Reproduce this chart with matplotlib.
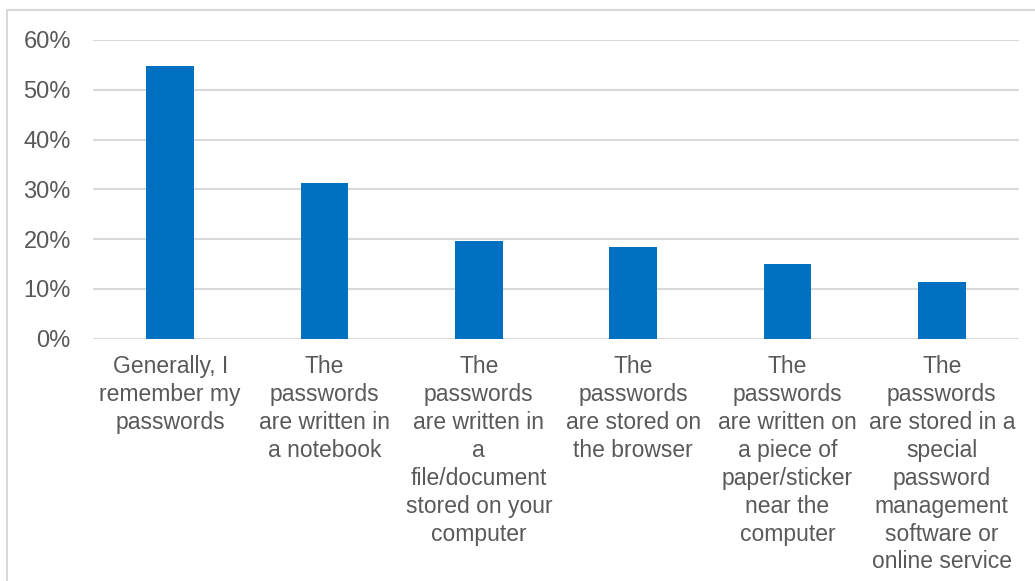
import matplotlib.pyplot as plt
from matplotlib.patches import Rectangle
from matplotlib.ticker import PercentFormatter

# Data
categories = [
    "Generally, I\nremember my\npasswords",
    "The\npasswords\nare written in\na notebook",
    "The\npasswords\nare written in\na\nfile/document\nstored on your\ncomputer",
    "The\npasswords\nare stored on\nthe browser",
    "The\npasswords\nare written on\na piece of\npaper/sticker\nnear the\ncomputer",
    "The\npasswords\nare stored in a\nspecial\npassword\nmanagement\nsoftware or\nonline service",
]
shares = [54.8, 31.2, 19.6, 18.4, 15.1, 11.3]
y_ticks = [0, 10, 20, 30, 40, 50, 60]

plt.rcParams["font.family"] = ["Liberation Sans", "DejaVu Sans"]

fig = plt.figure(figsize=(10.35, 5.81), dpi=100)
ax = fig.add_axes([0.0899, 0.417, 0.8946, 0.5143])

# outer chart border (cut off on the right and bottom)
fig.patches.append(Rectangle((7 / 1035, -0.1), 1.2, 1 - 10 / 581 + 0.1,
                             transform=fig.transFigure, fill=False,
                             edgecolor="#d9d9d9", linewidth=1.5))

x = list(range(len(categories)))
ax.bar(x, shares, width=0.31, color="#0070C0", zorder=3)

ax.set_xlim(-0.5, len(categories) - 0.5)
ax.set_ylim(0, 60)
ax.set_yticks(y_ticks)
ax.yaxis.set_major_formatter(PercentFormatter(decimals=0))
ax.grid(axis="y", color="#d9d9d9", linewidth=1.5, zorder=0)

ax.set_xticks(x)
ax.set_xticklabels(categories, linespacing=1.27, ha="center", va="top")
ax.tick_params(axis="x", length=0, pad=12, labelsize=16.5, colors="#595959")
ax.tick_params(axis="y", length=0, pad=16, labelsize=17, colors="#595959")

for side in ["top", "right", "left", "bottom"]:
    ax.spines[side].set_visible(False)

plt.savefig("out.png", dpi=100)
plt.close()
